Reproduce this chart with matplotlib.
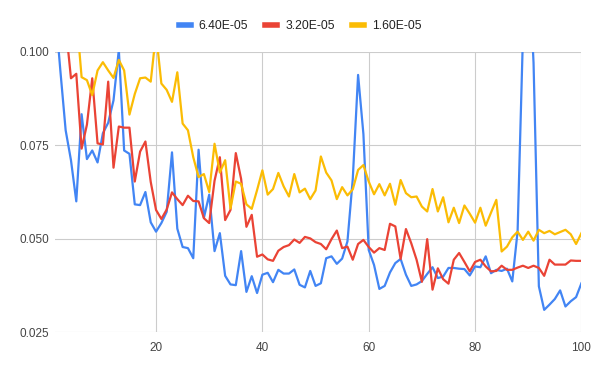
import numpy as np
import matplotlib
matplotlib.use("Agg")
import matplotlib.pyplot as plt
from matplotlib.ticker import FormatStrFormatter

plt.rcParams['font.family'] = ['Liberation Sans', 'DejaVu Sans']

# step index
steps = list(range(1, 101))

labels = ["6.40E-05", "3.20E-05", "1.60E-05"]
colors = ["#4285F4", "#EA4335", "#FBBC04"]

blue = [
    0.112, 0.095, 0.079, 0.071, 0.060, 0.0833, 0.0713, 0.0736, 0.0704, 0.0782,
    0.081, 0.087, 0.1005, 0.0736, 0.0727, 0.0592, 0.059, 0.0625, 0.0544, 0.0519,
    0.0542, 0.0572, 0.0731, 0.0527, 0.0478, 0.0475, 0.0448, 0.0738, 0.0556, 0.0618,
    0.0467, 0.0515, 0.0401, 0.0378, 0.0376, 0.0467, 0.0358, 0.040, 0.0355, 0.0404,
    0.0409, 0.0384, 0.0417, 0.0407, 0.0407, 0.0418, 0.0377, 0.037, 0.0414, 0.0374,
    0.0381, 0.0448, 0.0453, 0.0433, 0.0447, 0.0493, 0.066, 0.0938, 0.078, 0.047,
    0.043, 0.0366, 0.0374, 0.041, 0.0435, 0.0446, 0.0404, 0.0374, 0.0378, 0.0387,
    0.0406, 0.0424, 0.0395, 0.0399, 0.0422, 0.0422, 0.042, 0.0419, 0.0402, 0.0426,
    0.0424, 0.0453, 0.0408, 0.0417, 0.0414, 0.042, 0.0386, 0.052, 0.104, 0.127,
    0.097, 0.0373, 0.031, 0.0324, 0.0339, 0.0362, 0.0319, 0.0333, 0.0344, 0.0381,
]

red = [
    0.125, 0.115, 0.107, 0.0929, 0.0941, 0.0741, 0.0805, 0.0929, 0.0755, 0.0752,
    0.092, 0.069, 0.080, 0.0797, 0.0797, 0.0653, 0.0733, 0.076, 0.0652, 0.0577,
    0.0553, 0.0578, 0.0624, 0.0606, 0.059, 0.0615, 0.0601, 0.060, 0.0555, 0.0542,
    0.0655, 0.0718, 0.055, 0.0577, 0.0729, 0.066, 0.0532, 0.0564, 0.0452, 0.0458,
    0.0445, 0.0441, 0.0468, 0.0478, 0.0483, 0.0498, 0.0489, 0.0505, 0.0501, 0.0491,
    0.0486, 0.0472, 0.0499, 0.0522, 0.0475, 0.0479, 0.0444, 0.0486, 0.0497, 0.0478,
    0.0463, 0.0475, 0.047, 0.054, 0.0533, 0.0446, 0.0526, 0.0488, 0.0444, 0.0385,
    0.0499, 0.0364, 0.0421, 0.0392, 0.038, 0.0444, 0.0462, 0.0438, 0.0413, 0.0438,
    0.0444, 0.0426, 0.0413, 0.0414, 0.0428, 0.0417, 0.0417, 0.0423, 0.0428, 0.0422,
    0.0428, 0.0422, 0.0401, 0.0444, 0.0431, 0.0431, 0.0431, 0.0442, 0.0441, 0.0441,
]

yellow = [
    0.13, 0.125, 0.12, 0.115, 0.11, 0.0932, 0.0924, 0.0884, 0.095, 0.0972,
    0.095, 0.093, 0.0978, 0.095, 0.0832, 0.0887, 0.0929, 0.0931, 0.092, 0.105,
    0.0915, 0.0898, 0.0866, 0.0945, 0.0808, 0.079, 0.0718, 0.0665, 0.0673, 0.0625,
    0.0754, 0.0677, 0.071, 0.0581, 0.0653, 0.0647, 0.0592, 0.058, 0.063, 0.0683,
    0.0618, 0.0633, 0.0676, 0.064, 0.0613, 0.0673, 0.0624, 0.0634, 0.0606, 0.0629,
    0.072, 0.0677, 0.0656, 0.0606, 0.0638, 0.0616, 0.0632, 0.0684, 0.0697, 0.0653,
    0.0619, 0.0646, 0.0616, 0.0647, 0.0591, 0.0657, 0.0622, 0.0611, 0.0613, 0.0586,
    0.0573, 0.0633, 0.0573, 0.0611, 0.0544, 0.0583, 0.0542, 0.0589, 0.0567, 0.0543,
    0.0583, 0.0535, 0.057, 0.0604, 0.0466, 0.0479, 0.0504, 0.0519, 0.0497, 0.0519,
    0.0495, 0.0524, 0.0515, 0.0521, 0.0512, 0.0518, 0.0524, 0.0512, 0.0486, 0.0515,
]

fig = plt.figure(figsize=(6, 3.71), dpi=100)
ax = fig.add_axes([0.0917, 0.1043, 0.8773, 0.7563])

for series, lab, col in zip([blue, red, yellow], labels, colors):
    ax.plot(steps, series, color=col, linewidth=1.6, label=lab)

ax.set_xlim(1, 100)
ax.set_ylim(0.025, 0.100)
ax.set_xticks([20, 40, 60, 80, 100])
ax.set_yticks([0.025, 0.050, 0.075, 0.100])
ax.yaxis.set_major_formatter(FormatStrFormatter('%.3f'))
ax.grid(True, color="#cccccc", linewidth=0.8)
ax.set_axisbelow(True)
for s in ax.spines.values():
    s.set_visible(False)
ax.tick_params(length=0, labelsize=8.5, colors="#444444")
ax.tick_params(axis='y', pad=4)
ax.tick_params(axis='x', pad=7)

leg = fig.legend(loc='center', bbox_to_anchor=(0.5, 0.93), ncol=3, frameon=False,
                 fontsize=8.7, handlelength=1.0, columnspacing=1.4, handletextpad=0.66)
for h in leg.get_lines():
    h.set_linewidth(4)
for t in leg.get_texts():
    t.set_color("#222222")

fig.savefig("out.png", dpi=100)
